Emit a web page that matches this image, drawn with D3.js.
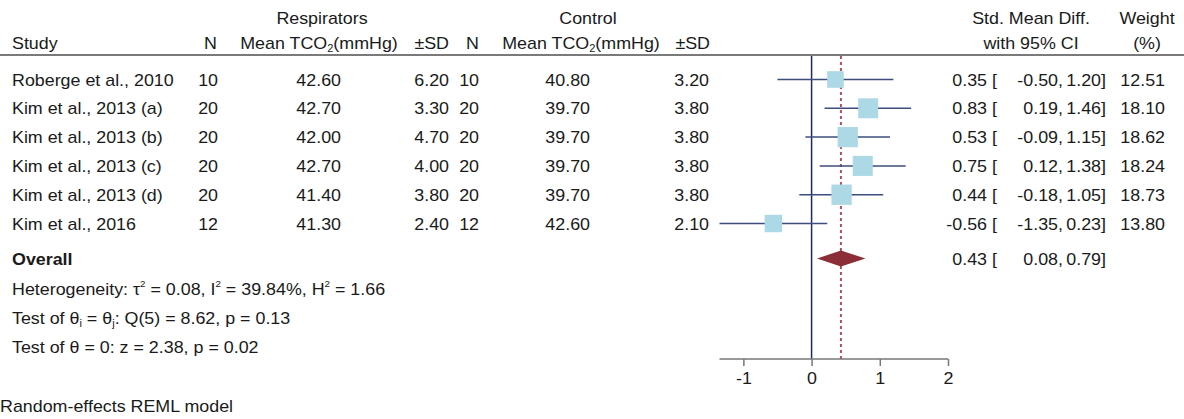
<!DOCTYPE html>
<html>
<head>
<meta charset="utf-8">
<script src="https://cdn.jsdelivr.net/npm/d3@7"></script>
<style>
  html, body { margin: 0; padding: 0; background: #fff; }
  svg { display: block; font-family: "Liberation Sans", Arial, sans-serif; }
</style>
</head>
<body>
<svg id="chart" width="1184" height="419"></svg>
<script>
// Study-level data
const studies = ["Roberge et al., 2010", "Kim et al., 2013 (a)", "Kim et al., 2013 (b)",
                 "Kim et al., 2013 (c)", "Kim et al., 2013 (d)", "Kim et al., 2016"];
const respN    = [10, 20, 20, 20, 20, 12];
const respMean = [42.60, 42.70, 42.00, 42.70, 41.40, 41.30];
const respSD   = [6.20, 3.30, 4.70, 4.00, 3.80, 2.40];
const ctrlN    = [10, 20, 20, 20, 20, 12];
const ctrlMean = [40.80, 39.70, 39.70, 39.70, 39.70, 42.60];
const ctrlSD   = [3.20, 3.80, 3.80, 3.80, 3.80, 2.10];
const smd      = [0.35, 0.83, 0.53, 0.75, 0.44, -0.56];
const ciLow    = [-0.50, 0.19, -0.09, 0.12, -0.18, -1.35];
const ciHigh   = [1.20, 1.46, 1.15, 1.38, 1.05, 0.23];
const weights  = [12.51, 18.10, 18.62, 18.24, 18.73, 13.80];

// Pooled estimate
const overallSMD = 0.43, overallLow = 0.08, overallHigh = 0.79;
const axisTicks = [-1, 0, 1, 2];

const svg = d3.select("#chart");
// two decimals, plain hyphen for negatives
const fmt = v => d3.format(".2f")(v).replace("\u2212", "-");
const FS = 17, SX = 1.05;      // font size and horizontal stretch of the table text
const ink = "#1a1a1a";

// Horizontal effect-size scale
const x = d3.scaleLinear().domain([-1.35, 2]).range([719.5, 948]);
// Row positions
const rowY = d3.scaleLinear().domain([0, 5]).range([79.5, 223.5]);
const overallY = 258.5, axisY = 359, plotTop = 55;

function label(g, str, px, py, anchor, opts = {}) {
  const t = g.append("text")
    .attr("transform", `translate(${px},${py}) scale(${SX},1)`)
    .attr("text-anchor", anchor || "start")
    .attr("font-size", opts.size || FS)
    .attr("font-weight", opts.bold ? "bold" : null)
    .attr("fill", ink);
  if (typeof str === "string") t.text(str);
  else str.forEach(p => {
    const s = t.append("tspan").text(p.t);
    if (p.sub) s.attr("font-size", FS * 0.62).attr("dy", 3);
    if (p.sup) s.attr("font-size", FS * 0.55).attr("dy", -8);
    if (p.back) s.attr("dy", p.back);
  });
  return t;
}

const txt = svg.append("g");
const base = 6; // offset from row centre to text baseline

// Header
label(txt, "Respirators", 322, 18 + base, "middle");
label(txt, "Control", 588, 18 + base, "middle");
label(txt, "Std. Mean Diff.", 1031, 18 + base, "middle");
label(txt, "Weight", 1147, 18 + base, "middle");
const h2 = 43 + base;
label(txt, "Study", 12, h2, "start");
label(txt, "N", 217, h2, "end");
const tco2 = [{t: "Mean TCO"}, {t: "2", sub: true}, {t: "(mmHg)", back: -3}];
label(txt, tco2, 319, h2, "middle");
label(txt, "±SD", 449, h2, "end");
label(txt, "N", 479, h2, "end");
label(txt, tco2, 581, h2, "middle");
label(txt, "±SD", 710, h2, "end");
label(txt, "with 95% CI", 1031, h2, "middle");
label(txt, "(%)", 1147, h2, "middle");

// Rule under header
svg.append("line").attr("x1", 0).attr("x2", 1184).attr("y1", plotTop).attr("y2", plotTop)
  .attr("stroke", "#7a7a7a").attr("stroke-width", 2);

// Effect size with confidence interval, laid out in aligned columns
function ciText(y, est, lo, hi) {
  label(txt, fmt(est), 987, y, "end");
  label(txt, "[", 992, y, "start");
  label(txt, fmt(lo) + ",", 1063, y, "end");
  label(txt, fmt(hi) + "]", 1106, y, "end");
}

// Study rows
studies.forEach((s, i) => {
  const y = rowY(i) + base;
  label(txt, s, 12, y, "start");
  label(txt, String(respN[i]), 218, y, "end");
  label(txt, fmt(respMean[i]), 341, y, "end");
  label(txt, fmt(respSD[i]), 449, y, "end");
  label(txt, String(ctrlN[i]), 479, y, "end");
  label(txt, fmt(ctrlMean[i]), 590, y, "end");
  label(txt, fmt(ctrlSD[i]), 709, y, "end");
  ciText(y, smd[i], ciLow[i], ciHigh[i]);
  label(txt, fmt(weights[i]), 1165, y, "end");
});

// Overall row and test statistics
label(txt, "Overall", 12, overallY + base, "start", {bold: true});
ciText(overallY + base, overallSMD, overallLow, overallHigh);

label(txt, [{t: "Heterogeneity: τ"}, {t: "2", sup: true}, {t: " = 0.08, I", back: 8},
            {t: "2", sup: true}, {t: " = 39.84%, H", back: 8}, {t: "2", sup: true},
            {t: " = 1.66", back: 8}], 12, 289 + base, "start");
label(txt, [{t: "Test of θ"}, {t: "i", sub: true}, {t: " = θ", back: -3}, {t: "j", sub: true},
            {t: ": Q(5) = 8.62, p = 0.13", back: -3}], 12, 318 + base, "start");
label(txt, "Test of θ = 0: z = 2.38, p = 0.02", 12, 347 + base, "start");
label(txt, "Random-effects REML model", 0, 406 + base, "start");

// Plot: reference lines at zero and at the pooled estimate
const plot = svg.append("g");
plot.append("line").attr("x1", x(0)).attr("x2", x(0)).attr("y1", plotTop + 1).attr("y2", axisY)
  .attr("stroke", "#1c2a5e").attr("stroke-width", 1.5);
plot.append("line").attr("x1", x(overallSMD)).attr("x2", x(overallSMD))
  .attr("y1", plotTop + 1).attr("y2", axisY)
  .attr("stroke", "#b0505c").attr("stroke-width", 2).attr("stroke-dasharray", "3,3");

// Confidence intervals
plot.selectAll("line.ci").data(studies).join("line").attr("class", "ci")
  .attr("x1", (d, i) => x(ciLow[i])).attr("x2", (d, i) => x(ciHigh[i]))
  .attr("y1", (d, i) => rowY(i)).attr("y2", (d, i) => rowY(i))
  .attr("stroke", "#3d4e7e").attr("stroke-width", 1.5);

// Weighted squares (area proportional to weight)
const side = d3.scaleSqrt().domain([0, 20]).range([0, 21]);
plot.selectAll("rect.pt").data(studies).join("rect").attr("class", "pt")
  .attr("x", (d, i) => x(smd[i]) - side(weights[i]) / 2)
  .attr("y", (d, i) => rowY(i) - side(weights[i]) / 2)
  .attr("width", (d, i) => side(weights[i]))
  .attr("height", (d, i) => side(weights[i]))
  .attr("fill", "#add8e6");

// Overall diamond
const dh = 8;
plot.append("path")
  .attr("d", `M${x(overallLow)},${overallY} L${x(overallSMD)},${overallY - dh} L${x(overallHigh)},${overallY} L${x(overallSMD)},${overallY + dh} Z`)
  .attr("fill", "#8b2e38");

// Axis
const axis = svg.append("g").attr("transform", `translate(0,${axisY})`)
  .call(d3.axisBottom(x).tickValues(axisTicks).tickSize(7).tickPadding(6)
    .tickFormat(d => d3.format("d")(d).replace("\u2212", "-")));
axis.select(".domain").attr("stroke", "#777").attr("stroke-width", 1.5)
  .attr("d", `M${x.range()[0]},0H${x.range()[1]}`);
axis.selectAll(".tick line").attr("stroke", "#777").attr("stroke-width", 1.5);
axis.selectAll(".tick text").attr("font-size", FS).attr("fill", ink)
  .attr("font-family", "Liberation Sans, Arial, sans-serif")
  .attr("transform", `scale(${SX},1)`);
</script>
</body>
</html>
